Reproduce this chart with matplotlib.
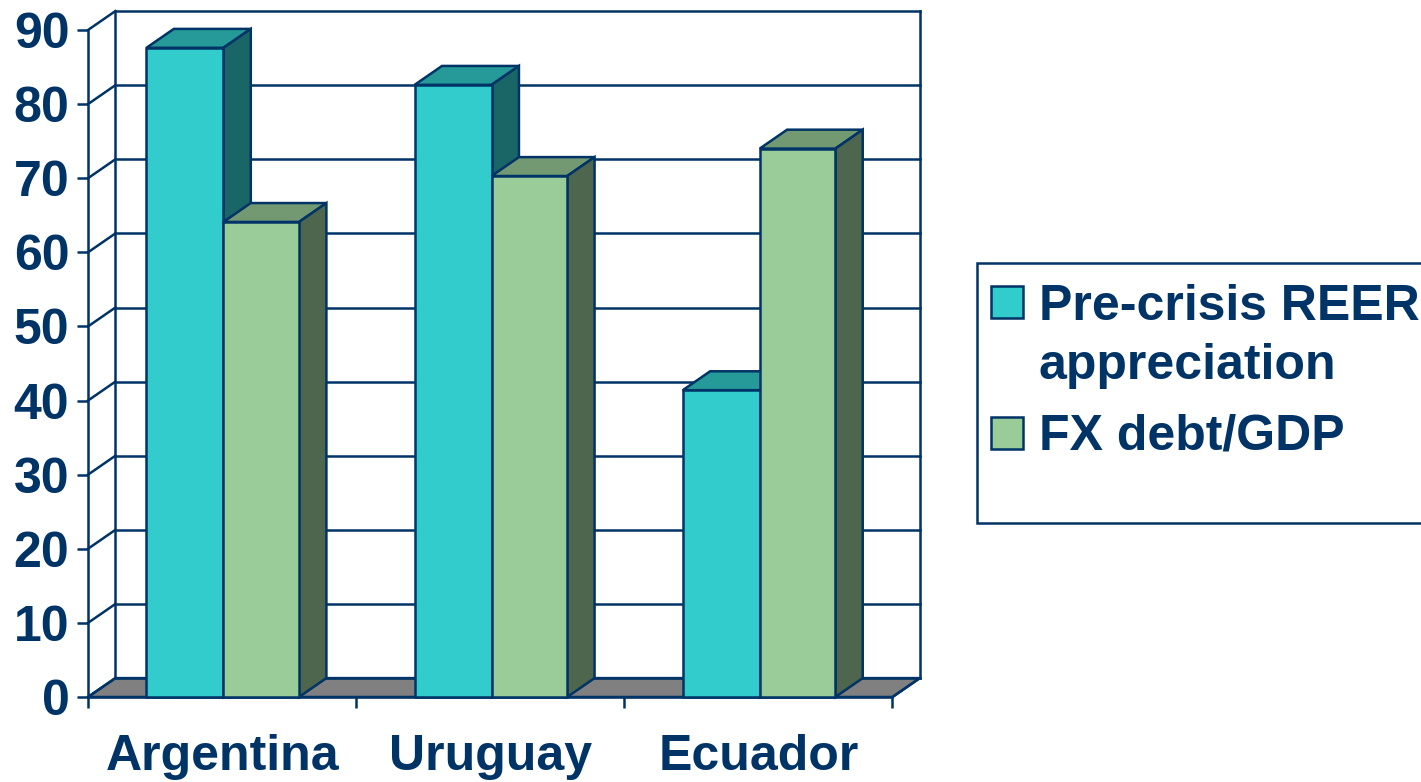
import matplotlib
matplotlib.use("Agg")
import matplotlib.pyplot as plt
from matplotlib.patches import Polygon, Rectangle

plt.rcParams['font.family'] = ['Liberation Sans', 'DejaVu Sans']

categories = ["Argentina", "Uruguay", "Ecuador"]
reer = [87.6, 82.6, 41.4]
fx_debt = [64.1, 70.3, 74.0]
yticks = [0, 10, 20, 30, 40, 50, 60, 70, 80, 90]

NAVY = "#003366"
LW = 1.8
FS = 36
# depth of the fake 3d, in data units
DX = 0.102
DY = 2.55
BAR_W = 0.287
BAR_SHIFT = 0.005

W, H = 1421, 782


def fx(x):
	return x / W


def fy(y):
	return 1 - y / H


def bar3d(ax, x0, w, h, front, top, side):
	ax.add_patch(Polygon([(x0, h), (x0 + DX, h + DY), (x0 + w + DX, h + DY), (x0 + w, h)],
		closed=True, fc=top, ec=NAVY, lw=LW, zorder=3, clip_on=False))
	ax.add_patch(Polygon([(x0 + w, 0), (x0 + w + DX, DY), (x0 + w + DX, h + DY), (x0 + w, h)],
		closed=True, fc=side, ec=NAVY, lw=LW, zorder=3, clip_on=False))
	ax.add_patch(Rectangle((x0, 0), w, h, fc=front, ec=NAVY, lw=LW, zorder=3, clip_on=False))


fig = plt.figure(figsize=(W / 100, H / 100), dpi=100)
ax = fig.add_axes([fx(88), fy(697), fx(804.5), 667 / H])
ax.set_xlim(0, 3)
ax.set_ylim(0, 90)

# floor
ax.add_patch(Polygon([(0, 0), (DX, DY), (3 + DX, DY), (3, 0)], closed=True,
	fc="#808080", ec=NAVY, lw=LW, zorder=1, clip_on=False))

# back wall, gridlines and the diagonals to the axis
for t in yticks:
	ax.plot([DX, 3 + DX], [t + DY, t + DY], color=NAVY, lw=LW, zorder=2, clip_on=False)
	ax.plot([0, DX], [t, t + DY], color=NAVY, lw=LW, zorder=2, clip_on=False)
ax.plot([DX, DX], [DY, 90 + DY], color=NAVY, lw=LW, zorder=2, clip_on=False)
ax.plot([3 + DX, 3 + DX], [DY, 90 + DY], color=NAVY, lw=LW, zorder=2, clip_on=False)
ax.plot([3, 3 + DX], [0, DY], color=NAVY, lw=LW, zorder=2, clip_on=False)

for i in range(len(categories)):
	bar3d(ax, i + 0.5 - BAR_W + BAR_SHIFT, BAR_W, reer[i], "#33CCCC", "#269999", "#1A6666")
	bar3d(ax, i + 0.5 + BAR_SHIFT, BAR_W - 0.005, fx_debt[i], "#99CC99", "#739973", "#4D664D")

for s in ["top", "right"]:
	ax.spines[s].set_visible(False)
for s in ["left", "bottom"]:
	ax.spines[s].set_color(NAVY)
	ax.spines[s].set_linewidth(LW)
ax.patch.set_visible(False)

ax.set_yticks(yticks)
ax.set_xticks([0, 1, 2, 3])
ax.set_xticklabels([])
ax.set_xticks([0.5, 1.5, 2.5], categories, minor=True)
ax.tick_params(axis="both", which="major", length=8, width=LW, color=NAVY)
ax.tick_params(axis="x", which="minor", length=0, pad=26.5)
ax.tick_params(axis="y", which="major", pad=5.5)
for lab in ax.get_yticklabels() + ax.get_xticklabels(minor=True):
	lab.set_fontweight("bold")
	lab.set_color(NAVY)
	lab.set_fontsize(FS)
for lab in ax.get_yticklabels():
	lab.set_y(lab.get_position()[1] + 0.15)

# legend
fig.add_artist(Rectangle((fx(977), fy(523)), fx(460), 260 / H, transform=fig.transFigure,
	fc="white", ec=NAVY, lw=LW))
legend_items = [("#33CCCC", "Pre-crisis REER", 302, 320), ("#99CC99", "FX debt/GDP", 433, 449)]
for color, label, yc, base in legend_items:
	fig.add_artist(Rectangle((fx(991), fy(yc + 16)), fx(32), 32 / H, transform=fig.transFigure,
		fc=color, ec=NAVY, lw=LW))
	fig.text(fx(1039), fy(base), label, color=NAVY, fontweight="bold", fontsize=FS, va="baseline")
fig.text(fx(1038), fy(379), "appreciation", color=NAVY, fontweight="bold", fontsize=FS, va="baseline")

fig.savefig("out.png", dpi=100)
